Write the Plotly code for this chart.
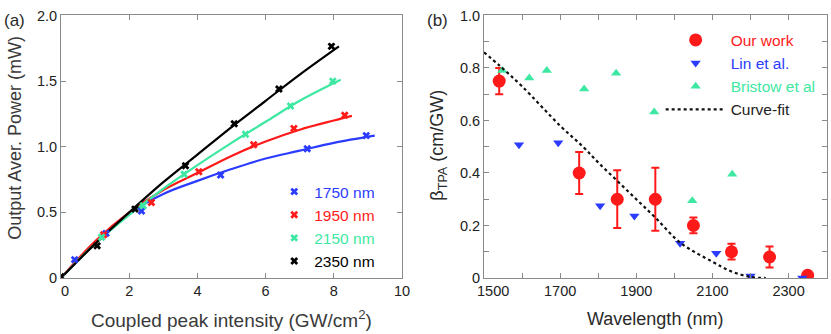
import plotly.graph_objects as go

# ---- panel (a): output power vs coupled peak intensity ----
labels_a = ["1750 nm", "1950 nm", "2150 nm", "2350 nm"]
colors_a = ["#2b3cff", "#ff1a1a", "#3ee8a2", "#000000"]

meas_x = [
    [0.0, 0.4, 1.32, 2.36, 4.68, 7.22, 8.95],
    [0.0, 1.25, 2.65, 4.04, 5.65, 6.83, 8.32],
    [0.0, 1.19, 2.41, 3.61, 5.41, 6.73, 7.97],
    [0.0, 1.06, 2.17, 3.65, 5.08, 6.39, 7.93],
]
meas_y = [
    [0.01, 0.14, 0.34, 0.51, 0.785, 0.985, 1.085],
    [0.01, 0.33, 0.575, 0.81, 1.015, 1.14, 1.24],
    [0.01, 0.31, 0.55, 0.79, 1.095, 1.31, 1.50],
    [0.01, 0.245, 0.525, 0.855, 1.175, 1.44, 1.765],
]
fit_x = [
    [0, 1, 2, 3, 4, 5, 6, 7, 8, 9.2],
    [0, 1, 2, 3, 4, 5, 6, 7, 8, 8.53],
    [0, 1, 2, 3, 4, 5, 6, 7, 8.2],
    [0, 1, 2, 3, 4, 5, 6, 7, 8.15],
]
fit_y = [
    [0, 0.27, 0.49, 0.64, 0.74, 0.83, 0.91, 0.97, 1.03, 1.085],
    [0, 0.28, 0.50, 0.67, 0.80, 0.93, 1.04, 1.13, 1.20, 1.235],
    [0, 0.26, 0.48, 0.68, 0.86, 1.03, 1.19, 1.35, 1.51],
    [0, 0.26, 0.50, 0.73, 0.94, 1.15, 1.35, 1.55, 1.765],
]

# ---- panel (b): beta_TPA vs wavelength ----
our_wl = [1540, 1750, 1850, 1950, 2050, 2150, 2250, 2350]
our_beta = [0.75, 0.40, 0.30, 0.30, 0.20, 0.10, 0.08, 0.01]
our_err = [0.05, 0.08, 0.11, 0.12, 0.03, 0.03, 0.04, 0.01]

lin_wl = [1592, 1695, 1805, 1895, 2015, 2110, 2200, 2336]
lin_beta = [0.508, 0.515, 0.275, 0.236, 0.132, 0.094, 0.008, 0.0]

bristow_wl = [1548, 1619, 1665, 1763, 1847, 1947, 2047, 2152]
bristow_beta = [0.79, 0.762, 0.79, 0.72, 0.78, 0.632, 0.294, 0.395]

fitb_wl = [1500, 1540, 1600, 1700, 1760, 1800, 1850, 1900, 1950, 2015, 2100, 2150, 2200, 2240]
fitb_beta = [0.86, 0.81, 0.73, 0.58, 0.50, 0.44, 0.37, 0.30, 0.23, 0.135, 0.062, 0.025, 0.004, 0.0]

RED = "#ff1a1a"
BLUE = "#2b3cff"
GREEN = "#3ee8a2"
FONT = "Liberation Sans, Arial, sans-serif"
NB = "\u00a0"

fig = go.Figure()

for i in range(4):
    fig.add_trace(go.Scatter(
        x=fit_x[i], y=fit_y[i], mode="lines", line_shape="spline",
        line=dict(color=colors_a[i], width=2.2), showlegend=False,
        xaxis="x", yaxis="y",
    ))
for i in range(4):
    fig.add_trace(go.Scatter(
        x=meas_x[i], y=meas_y[i], mode="markers",
        marker=dict(symbol="x", size=7, color=colors_a[i], line=dict(width=0)),
        name=f"<span style='color:{colors_a[i]}'>{labels_a[i]}</span>",
        xaxis="x", yaxis="y", legend="legend",
    ))

fig.add_trace(go.Scatter(
    x=our_wl, y=our_beta, mode="markers",
    marker=dict(symbol="circle", size=13, color=RED),
    error_y=dict(type="data", array=our_err, color=RED, thickness=2, width=4),
    name=f"<span style='color:{RED}'>Our work</span>",
    xaxis="x2", yaxis="y2", legend="legend2",
))
fig.add_trace(go.Scatter(
    x=lin_wl, y=lin_beta, mode="markers",
    marker=dict(symbol="triangle-down", size=9, color=BLUE),
    name=f"<span style='color:{BLUE}'>Lin et al.</span>",
    xaxis="x2", yaxis="y2", legend="legend2",
))
fig.add_trace(go.Scatter(
    x=bristow_wl, y=bristow_beta, mode="markers",
    marker=dict(symbol="triangle-up", size=9, color=GREEN),
    name=f"<span style='color:{GREEN}'>Bristow et al</span>",
    xaxis="x2", yaxis="y2", legend="legend2",
))
fig.add_trace(go.Scatter(
    x=fitb_wl, y=fitb_beta, mode="lines", line_shape="spline",
    line=dict(color="#111111", width=2.2, dash="dot"),
    name="Curve-fit",
    xaxis="x2", yaxis="y2", legend="legend2",
))

axis_common = dict(
    showline=True, mirror="ticks", linecolor="#8a8a8a", linewidth=1,
    ticks="inside", ticklen=5, tickcolor="#8a8a8a",
    showgrid=False, zeroline=False, automargin=False,
    tickfont=dict(family=FONT, size=14.5, color="#222222"),
)


def title_note(text, x, y, angle=0, size=18, color="#2a2a2a"):
    return dict(text=text, x=x, y=y, xref="paper", yref="paper",
                xanchor="center", yanchor="middle", showarrow=False,
                textangle=angle, font=dict(family=FONT, size=size, color=color))


fig.update_layout(
    width=831, height=334,
    margin=dict(l=0, r=0, t=0, b=0, autoexpand=False),
    paper_bgcolor="white", plot_bgcolor="white",
    font=dict(family=FONT, color="#222222"),
    xaxis=dict(
        axis_common, domain=[0.0734, 0.4838], range=[0, 10],
        tickvals=[0, 2, 4, 6, 8, 10],
        ticktext=[NB * 2 + "0", "2", "4", "6", "8", "10"],
        anchor="y",
    ),
    yaxis=dict(
        axis_common, domain=[0.1677, 0.9536], range=[0, 2],
        tickvals=[0, 0.5, 1.0, 1.5, 2.0],
        ticktext=["0", "0.5", "1.0", "1.5", "2.0"],
        anchor="x",
    ),
    xaxis2=dict(
        axis_common, domain=[0.5824, 0.9948], range=[1500, 2400],
        tickvals=[1500, 1600, 1700, 1800, 1900, 2000, 2100, 2200, 2300, 2400],
        ticktext=["", "", "1700", "", "1900", "", "2100", "", "2300", ""],
        anchor="y2",
    ),
    yaxis2=dict(
        axis_common, domain=[0.1677, 0.9536], range=[0, 1],
        tickvals=[0, 0.1, 0.2, 0.3, 0.4, 0.5, 0.6, 0.7, 0.8, 0.9, 1.0],
        ticktext=["0", "", "0.2", "", "0.4", "", "0.6", "", "0.8", "", "1.0"],
        anchor="x2",
    ),
    legend=dict(
        x=0.330, y=0.476, xanchor="left", yanchor="top",
        bgcolor="rgba(0,0,0,0)", font=dict(family=FONT, size=15.5),
        tracegroupgap=0, itemwidth=30,
    ),
    legend2=dict(
        x=0.795, y=0.93, xanchor="left", yanchor="top",
        bgcolor="rgba(0,0,0,0)", font=dict(family=FONT, size=15.5),
        tracegroupgap=0, itemwidth=60,
    ),
    annotations=[
        title_note("(a)", 0.0175, 0.94, size=17),
        title_note("(b)", 0.526, 0.94, size=17),
        title_note("Coupled peak intensity (GW/cm<sup>2</sup>)", 0.2786, 0.046,
                   size=19, color="#3a3a3a"),
        title_note("Output Aver. Power (mW)", 0.0186, 0.589, angle=-90,
                   color="#3a3a3a"),
        title_note("Wavelength (nm)", 0.788, 0.046),
        title_note("β<sub>TPA</sub> (cm/GW)", 0.5275, 0.565, angle=-90),
        # first wavelength label, nudged right of the corner as in the original
        dict(text="1500", x=1500, y=0, xref="x2", yref="y2",
             xanchor="center", yanchor="top", xshift=9, yshift=-3,
             showarrow=False, font=dict(family=FONT, size=14.5, color="#222222")),
    ],
)

# drop the browser's default 8px body margin so the figure sits at the page corner
fig.write_html("out.html", config={"displayModeBar": False},
               post_script="document.body.style.margin='0px';")
